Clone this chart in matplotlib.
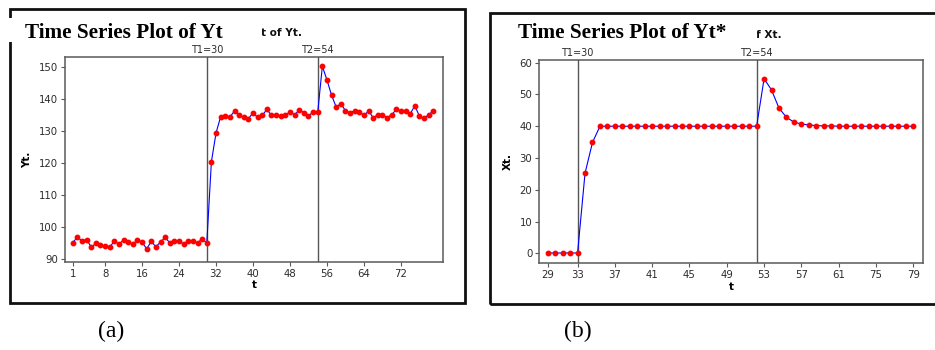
import matplotlib
matplotlib.use("Agg")
import matplotlib.pyplot as plt
from matplotlib.patches import Rectangle

# ---- data ----
t_a = list(range(1, 80))
yt = [95.1, 96.7, 95.7, 96.0, 93.7, 94.8, 94.4, 93.9, 93.7, 95.5,
      94.6, 95.9, 95.3, 94.6, 95.9, 95.2, 93.1, 95.5, 93.7, 95.3,
      96.7, 95.0, 95.5, 95.5, 94.6, 95.5, 95.5, 94.9, 96.3, 94.9,
      120.4, 129.4, 134.5, 134.7, 134.4, 136.3, 134.9, 134.4, 133.9, 135.7,
      134.3, 134.9, 136.8, 134.9, 135.1, 134.7, 134.9, 136.1, 135.1, 136.6,
      135.8, 134.6, 136.1, 135.9, 150.3, 146.0, 141.2, 137.5, 138.6, 136.4,
      135.7, 136.4, 136.1, 134.9, 136.3, 134.2, 135.1, 135.1, 134.2, 135.1,
      136.8, 136.4, 136.4, 135.4, 137.9, 134.7, 134.0, 135.1, 136.4]
ticks_a = [1, 8, 16, 24, 32, 40, 48, 56, 64, 72]
yticks_a = [90, 100, 110, 120, 130, 140, 150]
vlines_a = [(30, "T1=30"), (54, "T2=54")]

idx_b = list(range(1, 51))
xt = [0.1, 0.1, 0.1, 0.1, 0.1, 25.2, 34.9, 40.0, 40.0, 40.0,
      40.0, 40.0, 40.0, 40.0, 40.0, 40.0, 40.0, 40.0, 40.0, 40.0,
      40.0, 40.0, 40.0, 40.0, 40.0, 40.0, 40.0, 40.0, 40.0, 55.0,
      51.4, 45.7, 42.8, 41.3, 40.7, 40.4, 40.2, 40.1, 40.1, 40.0,
      40.0, 40.0, 40.0, 40.0, 40.0, 40.0, 40.0, 40.0, 40.0, 40.0]
tick_pos_b = [1, 5, 10, 15, 20, 25, 30, 35, 40, 45, 50]
tick_lab_b = ["29", "33", "37", "41", "45", "49", "53", "57", "61", "75", "79"]
yticks_b = [0, 10, 20, 30, 40, 50, 60]
vlines_b = [(5, "T1=30"), (29, "T2=54")]

W, H = 935, 350
fig = plt.figure(figsize=(W / 100, H / 100), dpi=100)
fig.patch.set_facecolor("white")

TXT = "#2b2b2b"
SPINE = "#5a5a5a"


def fbox(x0, y0, x1, y1):
    """pixel box (top-left origin) -> figure fraction [l, b, w, h]"""
    return [x0 / W, 1 - y1 / H, (x1 - x0) / W, (y1 - y0) / H]


def frame(x0, y0, x1, y1, lw=2.0):
    fig.add_artist(Rectangle((x0 / W, 1 - y1 / H), (x1 - x0) / W, (y1 - y0) / H,
                             transform=fig.transFigure, fill=False,
                             edgecolor="#111111", linewidth=lw, zorder=1))


def cover(x0, y0, x1, y1):
    fig.add_artist(Rectangle((x0 / W, 1 - y1 / H), (x1 - x0) / W, (y1 - y0) / H,
                             transform=fig.transFigure, facecolor="white",
                             edgecolor="none", zorder=5))


def panel(box, x, y, xlim, ylim, xticks, xticklabels, yticks, vlines, ylabel):
    ax = fig.add_axes(fbox(*box))
    ax.plot(x, y, color="blue", lw=0.8, zorder=3)
    ax.plot(x, y, ls="none", marker="o", ms=3.2, mfc="red", mec="red", zorder=4)
    for xv, lab in vlines:
        ax.axvline(xv, color="#555555", lw=1.0, zorder=2)
        ax.text(xv, 1.012, lab, transform=ax.get_xaxis_transform(),
                ha="center", va="bottom", fontsize=7, color=TXT)
    ax.set_xlim(*xlim)
    ax.set_ylim(*ylim)
    ax.set_xticks(xticks)
    ax.set_xticklabels(xticklabels)
    ax.set_yticks(yticks)
    ax.tick_params(direction="out", length=3, width=0.8, color=SPINE,
                   labelsize=7.3, labelcolor=TXT, pad=2)
    for s in ax.spines.values():
        s.set_color(SPINE)
        s.set_linewidth(1.1)
    ax.set_xlabel("t", fontsize=7.5, fontweight="bold", labelpad=1)
    ax.set_ylabel(ylabel, fontsize=7.5, fontweight="bold", labelpad=5)
    return ax


# panel (a)
frame(9.5, 9, 464.5, 303)
panel((65, 57, 443, 262), t_a, yt, (-0.67, 81.1), (89.0, 153.2),
      ticks_a, [str(v) for v in ticks_a], yticks_a, vlines_a, "Yt.")
cover(7, 18, 262, 42)
fig.text(302 / W, 1 - 36 / H, "t of Yt.", ha="right",
         va="baseline", fontsize=7.6, fontweight="bold", color="#111111")
fig.text(25 / W, 1 - 38 / H, "Time Series Plot of Yt", ha="left", va="baseline",
         fontsize=15.3, fontweight="bold", family="Liberation Serif",
         color="black", zorder=6)

# panel (b)
frame(489.5, 12.5, 940, 303.5)
panel((539.3, 60, 922.7, 263.3), idx_b, xt, (-0.13, 51.26), (-3.15, 60.85),
      tick_pos_b, tick_lab_b, yticks_b, vlines_b, "Xt.")
cover(495, 18, 757, 44)
fig.text(782 / W, 1 - 38 / H, "f Xt.", ha="right",
         va="baseline", fontsize=7.6, fontweight="bold", color="#111111")
fig.text(518 / W, 1 - 38 / H, "Time Series Plot of Yt*", ha="left", va="baseline",
         fontsize=15.3, fontweight="bold", family="Liberation Serif",
         color="black", zorder=6)

# captions
fig.text(111 / W, 1 - 331 / H, "(a)", ha="center", va="center", fontsize=17,
         family="Liberation Serif")
fig.text(578 / W, 1 - 331 / H, "(b)", ha="center", va="center", fontsize=17,
         family="Liberation Serif")

fig.savefig("out.png", dpi=100, facecolor="white")
